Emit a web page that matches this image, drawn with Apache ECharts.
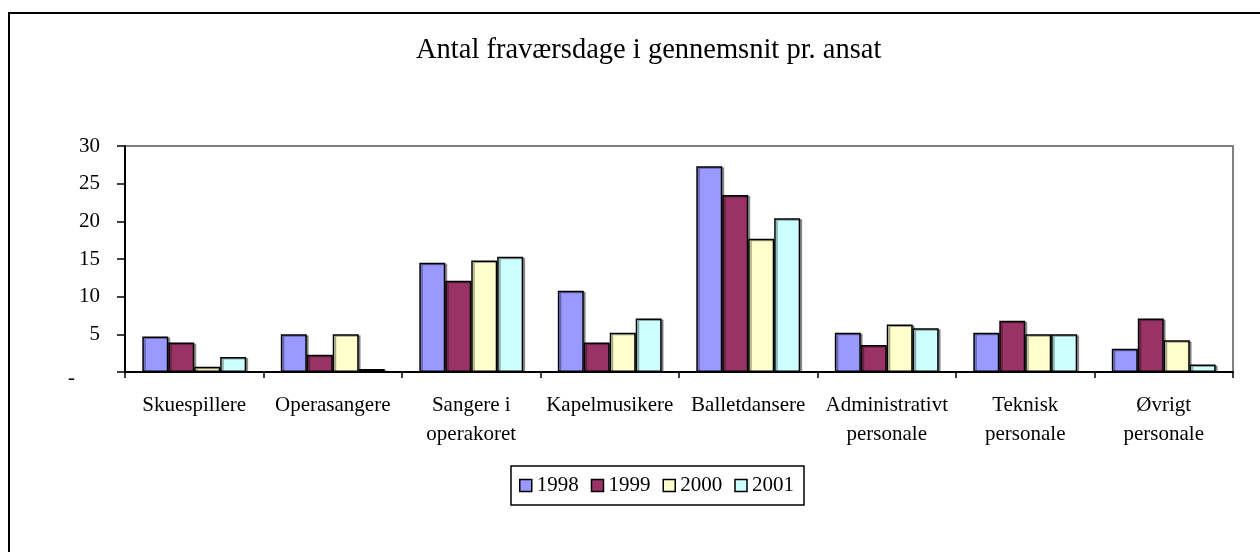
<!DOCTYPE html>
<html>
<head>
<meta charset="utf-8">
<script src="https://cdn.jsdelivr.net/npm/echarts@6/dist/echarts.min.js"></script>
<style>
html,body{margin:0;padding:0;background:#fff;}
#c{width:1260px;height:552px;}
</style>
</head>
<body>
<div id="c"></div>
<script>
const title = 'Antal fraværsdage i gennemsnit pr. ansat';
const categories = ['Skuespillere', 'Operasangere', 'Sangere i\noperakoret', 'Kapelmusikere', 'Balletdansere', 'Administrativt\npersonale', 'Teknisk\npersonale', 'Øvrigt\npersonale'];
const seriesNames = ['1998', '1999', '2000', '2001'];
const v1998 = [4.7, 5.0, 14.5, 10.8, 27.3, 5.2, 5.2, 3.1];
const v1999 = [3.9, 2.3, 12.1, 3.9, 23.5, 3.6, 6.8, 7.1];
const v2000 = [0.7, 5.0, 14.8, 5.2, 17.7, 6.3, 5.0, 4.2];
const v2001 = [2.0, 0.4, 15.3, 7.1, 20.4, 5.8, 5.0, 1.0];
const yTicks = [0, 5, 10, 15, 20, 25, 30];
const colors = ['#9999FF', '#993366', '#FFFFCC', '#CCFFFF'];
const values = [v1998, v1999, v2000, v2001];

const FONT = '"Liberation Serif", "Times New Roman", serif';
const chart = echarts.init(document.getElementById('c'), null, {renderer: 'canvas'});
chart.setOption({
  animation: false,
  backgroundColor: '#fff',
  textStyle: {fontFamily: FONT, color: '#000'},
  title: {
    text: title, left: 411, top: 31,
    textStyle: {fontFamily: FONT, fontSize: 28.5, fontWeight: 'normal', color: '#000'}
  },
  graphic: [{
    type: 'rect', shape: {x: 9, y: 13, width: 1300, height: 600},
    style: {fill: 'none', stroke: '#000', lineWidth: 2}, z: 100
  }],
  legend: {
    data: seriesNames, left: 511, top: 466,
    padding: [9, 10, 9, 8], itemWidth: 12, itemHeight: 12, itemGap: 12,
    icon: 'rect', borderColor: '#000', borderWidth: 1.5,
    textStyle: {fontFamily: FONT, fontSize: 21, color: '#000', padding: [2, 0, 0, 0]},
    itemStyle: {borderColor: '#000', borderWidth: 1.5}
  },
  grid: {
    left: 125, right: 27, top: 146, bottom: 180,
    show: true, borderColor: '#808080', borderWidth: 2, backgroundColor: '#fff'
  },
  xAxis: {
    type: 'category', data: categories,
    axisLine: {lineStyle: {color: '#000', width: 2}},
    axisTick: {show: true, length: 6, lineStyle: {color: '#000', width: 1.5}},
    axisLabel: {fontFamily: FONT, fontSize: 21, color: '#000', margin: 19, lineHeight: 29, interval: 0}
  },
  yAxis: {
    type: 'value', min: 0, max: 30, interval: 5,
    splitLine: {show: false},
    axisLine: {show: true, lineStyle: {color: '#000', width: 2}},
    axisTick: {show: true, length: 8, lineStyle: {color: '#000', width: 1.5}},
    axisLabel: {
      fontFamily: FONT, fontSize: 21, color: '#000', margin: 25,
      formatter: v => (v === 0 ? '{z|-}' : String(v)),
      rich: {z: {fontFamily: FONT, fontSize: 21, color: '#000', padding: [12, 25, 0, 0]}}
    }
  },
  series: seriesNames.map((n, i) => ({
    name: n, type: 'bar', data: values[i],
    barGap: '0%', barCategoryGap: '25%',
    itemStyle: {
      color: colors[i], borderColor: '#000', borderWidth: 1.5,
      shadowColor: 'rgba(0,0,0,0.35)', shadowOffsetX: 2, shadowOffsetY: 1, shadowBlur: 0
    }
  }))
});
</script>
</body>
</html>
